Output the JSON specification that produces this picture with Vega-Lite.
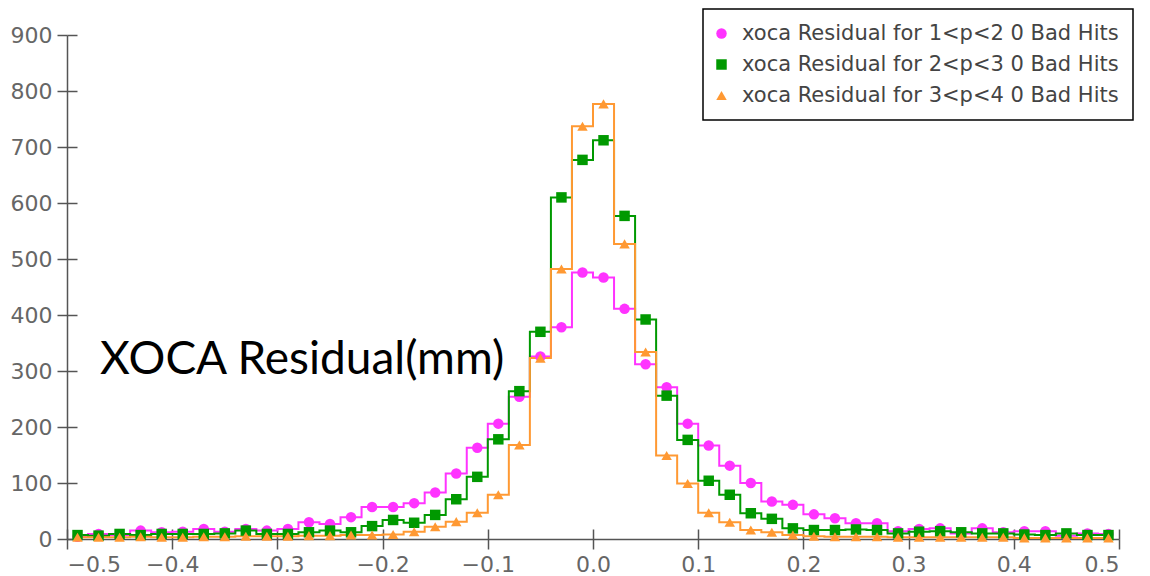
{
  "$schema": "https://vega.github.io/schema/vega-lite/v6.json",
  "width": 1052,
  "height": 504,
  "autosize": "none",
  "padding": {"left": 67, "top": 35, "right": 31, "bottom": 37},
  "background": "white",
  "config": {
    "view": {"stroke": null},
    "axis": {
      "domainColor": "#555555",
      "tickColor": "#555555",
      "labelColor": "#666666",
      "labelFont": "DejaVu Sans",
      "labelFontSize": 22,
      "grid": false,
      "title": null,
      "domainWidth": 1.5,
      "tickWidth": 1.5
    },
    "legend": {
      "orient": "none",
      "legendX": 636,
      "legendY": -26,
      "strokeColor": "black",
      "strokeWidth": 1.5,
      "fillColor": "white",
      "padding": 14,
      "rowPadding": 9,
      "labelFontSize": 21,
      "labelColor": "#444444",
      "labelFont": "DejaVu Sans",
      "symbolSize": 110,
      "symbolOffset": -6,
      "labelOffset": 10,
      "labelLimit": 0,
      "symbolStrokeWidth": 0
    }
  },
  "datasets": {
    "hist": [
      {"x": -0.49, "1<p<2": 4, "2<p<3": 7, "3<p<4": 3},
      {"x": -0.47, "1<p<2": 9, "2<p<3": 6, "3<p<4": 3},
      {"x": -0.45, "1<p<2": 7, "2<p<3": 9, "3<p<4": 3},
      {"x": -0.43, "1<p<2": 15, "2<p<3": 7, "3<p<4": 4},
      {"x": -0.41, "1<p<2": 12, "2<p<3": 9, "3<p<4": 3},
      {"x": -0.39, "1<p<2": 13, "2<p<3": 9, "3<p<4": 3},
      {"x": -0.37, "1<p<2": 18, "2<p<3": 9, "3<p<4": 4},
      {"x": -0.35, "1<p<2": 13, "2<p<3": 10, "3<p<4": 4},
      {"x": -0.33, "1<p<2": 18, "2<p<3": 15, "3<p<4": 5},
      {"x": -0.31, "1<p<2": 15, "2<p<3": 9, "3<p<4": 5},
      {"x": -0.29, "1<p<2": 18, "2<p<3": 9, "3<p<4": 5},
      {"x": -0.27, "1<p<2": 30, "2<p<3": 12, "3<p<4": 6},
      {"x": -0.25, "1<p<2": 27, "2<p<3": 15, "3<p<4": 6},
      {"x": -0.23, "1<p<2": 39, "2<p<3": 12, "3<p<4": 7},
      {"x": -0.21, "1<p<2": 57, "2<p<3": 23, "3<p<4": 7},
      {"x": -0.19, "1<p<2": 57, "2<p<3": 34, "3<p<4": 8},
      {"x": -0.17, "1<p<2": 64, "2<p<3": 29, "3<p<4": 13},
      {"x": -0.15, "1<p<2": 83, "2<p<3": 43, "3<p<4": 22},
      {"x": -0.13, "1<p<2": 117, "2<p<3": 71, "3<p<4": 31},
      {"x": -0.11, "1<p<2": 163, "2<p<3": 111, "3<p<4": 47},
      {"x": -0.09, "1<p<2": 206, "2<p<3": 178, "3<p<4": 79},
      {"x": -0.07, "1<p<2": 254, "2<p<3": 264, "3<p<4": 168},
      {"x": -0.05, "1<p<2": 326, "2<p<3": 370, "3<p<4": 323},
      {"x": -0.03, "1<p<2": 378, "2<p<3": 610, "3<p<4": 482},
      {"x": -0.01, "1<p<2": 476, "2<p<3": 677, "3<p<4": 737},
      {"x": 0.01, "1<p<2": 467, "2<p<3": 712, "3<p<4": 777},
      {"x": 0.03, "1<p<2": 411, "2<p<3": 577, "3<p<4": 527},
      {"x": 0.05, "1<p<2": 312, "2<p<3": 392, "3<p<4": 334},
      {"x": 0.07, "1<p<2": 271, "2<p<3": 256, "3<p<4": 149},
      {"x": 0.09, "1<p<2": 206, "2<p<3": 177, "3<p<4": 99},
      {"x": 0.11, "1<p<2": 167, "2<p<3": 104, "3<p<4": 47},
      {"x": 0.13, "1<p<2": 131, "2<p<3": 79, "3<p<4": 30},
      {"x": 0.15, "1<p<2": 100, "2<p<3": 46, "3<p<4": 16},
      {"x": 0.17, "1<p<2": 67, "2<p<3": 36, "3<p<4": 12},
      {"x": 0.19, "1<p<2": 61, "2<p<3": 19, "3<p<4": 7},
      {"x": 0.21, "1<p<2": 44, "2<p<3": 16, "3<p<4": 5},
      {"x": 0.23, "1<p<2": 37, "2<p<3": 16, "3<p<4": 4},
      {"x": 0.25, "1<p<2": 28, "2<p<3": 17, "3<p<4": 4},
      {"x": 0.27, "1<p<2": 28, "2<p<3": 16, "3<p<4": 4},
      {"x": 0.29, "1<p<2": 14, "2<p<3": 10, "3<p<4": 3},
      {"x": 0.31, "1<p<2": 18, "2<p<3": 13, "3<p<4": 3},
      {"x": 0.33, "1<p<2": 19, "2<p<3": 14, "3<p<4": 3},
      {"x": 0.35, "1<p<2": 10, "2<p<3": 12, "3<p<4": 3},
      {"x": 0.37, "1<p<2": 19, "2<p<3": 10, "3<p<4": 3},
      {"x": 0.39, "1<p<2": 12, "2<p<3": 10, "3<p<4": 3},
      {"x": 0.41, "1<p<2": 14, "2<p<3": 8, "3<p<4": 2},
      {"x": 0.43, "1<p<2": 14, "2<p<3": 7, "3<p<4": 2},
      {"x": 0.45, "1<p<2": 6, "2<p<3": 10, "3<p<4": 2},
      {"x": 0.47, "1<p<2": 10, "2<p<3": 7, "3<p<4": 2},
      {"x": 0.49, "1<p<2": 9, "2<p<3": 7, "3<p<4": 2}
    ],
    "note": [{"t": "XOCA Residual(mm)"}]
  },
  "layer": [
    {
      "data": {"name": "hist"},
      "transform": [{"fold": ["1<p<2", "2<p<3", "3<p<4"], "as": ["series", "count"]}],
      "mark": {"type": "line", "interpolate": "step", "strokeWidth": 2},
      "encoding": {
        "x": {
          "field": "x", "type": "quantitative",
          "scale": {"domain": [-0.5, 0.5], "nice": false, "zero": false},
          "axis": {"orient": "bottom", "values": [-0.5, -0.4, -0.3, -0.2, -0.1, 0, 0.1, 0.2, 0.3, 0.4, 0.5], "format": ".1f", "tickSize": 10, "labelPadding": 5}
        },
        "y": {
          "field": "count", "type": "quantitative",
          "scale": {"domain": [0, 900], "nice": false},
          "axis": {"orient": "left", "values": [0, 100, 200, 300, 400, 500, 600, 700, 800, 900], "tickSize": 10, "labelPadding": 5}
        },
        "color": {
          "field": "series", "type": "nominal",
          "scale": {"domain": ["1<p<2", "2<p<3", "3<p<4"], "range": ["#FF33FF", "#009900", "#FF9933"]},
          "legend": {"title": null, "labelExpr": "'xoca Residual for ' + datum.label + ' 0 Bad Hits'", "symbolType": "circle"}
        }
      }
    },
    {
      "data": {"name": "hist"},
      "transform": [{"fold": ["1<p<2", "2<p<3", "3<p<4"], "as": ["series", "count"]}],
      "mark": {"type": "point", "filled": true, "size": 110, "opacity": 1},
      "encoding": {
        "x": {
          "field": "x", "type": "quantitative",
          "axis": {"orient": "bottom", "offset": -10, "tickSize": 10, "labels": false, "domain": false, "values": [-0.5, -0.4, -0.3, -0.2, -0.1, 0, 0.1, 0.2, 0.3, 0.4, 0.5]}
        },
        "y": {
          "field": "count", "type": "quantitative",
          "axis": {"orient": "left", "offset": -10, "tickSize": 10, "labels": false, "domain": false, "values": [0, 100, 200, 300, 400, 500, 600, 700, 800, 900]}
        },
        "color": {
          "field": "series", "type": "nominal",
          "legend": {"title": null, "labelExpr": "'xoca Residual for ' + datum.label + ' 0 Bad Hits'"}
        },
        "shape": {
          "field": "series", "type": "nominal",
          "scale": {"domain": ["1<p<2", "2<p<3", "3<p<4"], "range": ["circle", "square", "triangle-up"]},
          "legend": {"title": null, "labelExpr": "'xoca Residual for ' + datum.label + ' 0 Bad Hits'"}
        }
      }
    },
    {
      "data": {"name": "note"},
      "mark": {"type": "text", "align": "left", "baseline": "alphabetic", "font": "Lato", "fontSize": 46, "color": "black"},
      "encoding": {
        "x": {"datum": -0.4686, "type": "quantitative", "axis": null},
        "y": {"datum": 294.6, "type": "quantitative", "axis": null},
        "text": {"field": "t"}
      }
    }
  ],
  "resolve": {"axis": {"x": "independent", "y": "independent"}}
}
